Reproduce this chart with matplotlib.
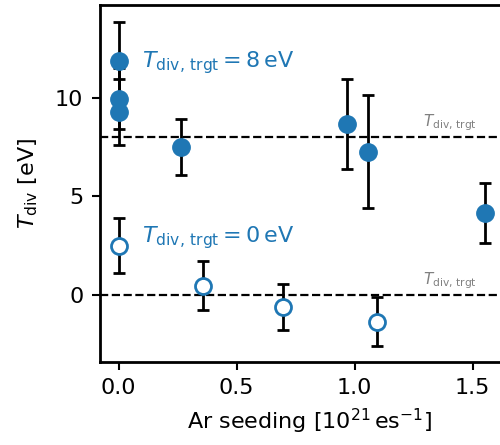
import numpy as np
import matplotlib
matplotlib.use("Agg")
import matplotlib.pyplot as plt

plt.rcParams['font.size'] = 16

# target 8 eV (filled)
x_8 = [0.0, 0.0, 0.0, 0.264, 0.966, 1.056, 1.553]
y_8 = [11.85, 9.95, 9.27, 7.5, 8.67, 7.26, 4.17]
e_8 = [2.0, 1.55, 1.67, 1.42, 2.3, 2.87, 1.52]

# target 0 eV (open)
x_0 = [0.0, 0.356, 0.697, 1.094]
y_0 = [2.5, 0.46, -0.62, -1.36]
e_0 = [1.4, 1.23, 1.17, 1.25]

targets = [8, 0]
xticks = [0.0, 0.5, 1.0, 1.5]
yticks = [0, 5, 10]

c = '#1f77b4'
fig = plt.figure(figsize=(5, 4.45), dpi=100)
ax = fig.add_axes([0.2, 0.187, 0.8397, 0.8015])

for t in targets:
    ax.axhline(t, color='k', ls='--', lw=1.6, zorder=1)
    ax.text(1.52, t + 0.2, r'$T_\mathrm{div,\,trgt}$', color='gray',
            fontsize=11, ha='right', va='bottom')

ax.errorbar(x_8, y_8, yerr=e_8, fmt='none', ecolor='k', elinewidth=2,
            capsize=4.5, capthick=2, zorder=2)
ax.plot(x_8, y_8, 'o', color=c, ms=12.5, zorder=3)
ax.errorbar(x_0, y_0, yerr=e_0, fmt='none', ecolor='k', elinewidth=2,
            capsize=4.5, capthick=2, zorder=2)
ax.plot(x_0, y_0, 'o', mfc='white', mec=c, mew=2, ms=11.5, zorder=3)

ax.text(0.1, 11.8, r'$T_\mathrm{div,\,trgt} = 8\,\mathrm{eV}$', color=c,
        fontsize=16, va='center')
ax.text(0.1, 2.9, r'$T_\mathrm{div,\,trgt} = 0\,\mathrm{eV}$', color=c,
        fontsize=16, va='center')

ax.set_xlim(-0.079, 1.7)
ax.set_ylim(-3.4, 14.7)
ax.set_xticks(xticks)
ax.set_yticks(yticks)
ax.set_xlabel(r'Ar seeding [$10^{21}\,\mathrm{es}^{-1}$]', labelpad=6)
ax.set_ylabel(r'$T_\mathrm{div}$ [eV]', labelpad=11)
for s in ax.spines.values():
    s.set_linewidth(2)
ax.tick_params(width=1.5, length=6, pad=6)

fig.savefig('out.png', dpi=100)
